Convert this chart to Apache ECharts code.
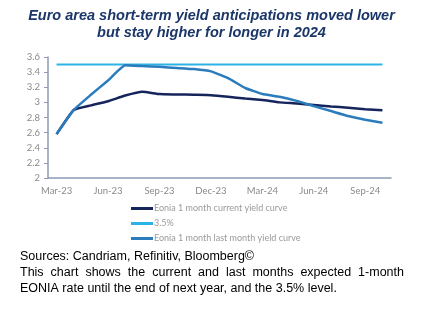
<!DOCTYPE html>
<html><head><meta charset="utf-8">
<script src="https://cdn.jsdelivr.net/npm/echarts@6/dist/echarts.min.js"></script>
<style>html,body{margin:0;padding:0;background:#fff}#c{width:423px;height:328px}</style>
</head><body><div id="c"></div>
<script>
const months = ["Mar-23","Apr-23","May-23","Jun-23","Jul-23","Aug-23","Sep-23","Oct-23","Nov-23","Dec-23","Jan-24","Feb-24","Mar-24","Apr-24","May-24","Jun-24","Jul-24","Aug-24","Sep-24","Oct-24"];
const currentCurve = [2.58,2.90,2.96,3.015,3.09,3.14,3.11,3.105,3.10,3.095,3.075,3.05,3.03,3.00,2.985,2.965,2.945,2.93,2.91,2.895];
const level35 = [3.5,3.5,3.5,3.5,3.5,3.5,3.5,3.5,3.5,3.5,3.5,3.5,3.5,3.5,3.5,3.5,3.5,3.5,3.5,3.5];
const lastMonthCurve = [2.58,2.90,3.10,3.29,3.49,3.48,3.47,3.455,3.44,3.41,3.32,3.19,3.11,3.075,3.02,2.95,2.885,2.82,2.77,2.73];
const seriesNames = ["Eonia 1 month current yield curve","3.5%","Eonia 1 month last month yield curve"];
const titleLines = ["Euro area short-term yield anticipations moved lower","but stay higher for longer in 2024"];
const sourceLine = "Sources: Candriam, Refinitiv, Bloomberg©";
const noteLine2 = ["This","chart","shows","the","current","and","last","months","expected","1-month"];
const noteLine3 = "EONIA rate until the end of next year, and the 3.5% level.";

const chart = echarts.init(document.getElementById('c'), null, {renderer:'canvas'});
const noteFont = '12.5px "Liberation Sans", Arial, sans-serif';
const cv = document.createElement('canvas').getContext('2d');
cv.font = noteFont;
const lineLeft = 20, lineRight = 404;
const widths = noteLine2.map(w => cv.measureText(w).width);
const total = widths.reduce((a,b)=>a+b,0);
const gap = (lineRight - lineLeft - total) / (noteLine2.length - 1);
const wordEls = [];
let xx = lineLeft;
noteLine2.forEach((w,i) => {
  wordEls.push({type:'text', left: Math.round(xx*10)/10, top: 266, style:{text:w, font:noteFont, fill:'#000'}});
  xx += widths[i] + gap;
});

const axisCol = '#8d9bb5';
const labelFont = {color:'#8a8a8a', fontSize:9.5, fontFamily:'Lato, "Open Sans", sans-serif'};
chart.setOption({
  animation:false,
  grid:{left:48, right:32, top:57, bottom:150},
  title:{text: titleLines.join('\n'), left:'center', top:2,
    textStyle:{color:'#1b3668', fontSize:14.5, fontWeight:'bold', fontStyle:'italic', fontFamily:'"Liberation Sans", Arial, sans-serif', lineHeight:17}},
  legend:{orient:'vertical', left:126, top:199, itemWidth:22, itemHeight:3, itemGap:6, icon:'rect',
    textStyle:{color:'#9a9a9a', fontSize:9, fontFamily:'Lato, "Open Sans", sans-serif', padding:[0,0,0,-4]},
    data: seriesNames},
  xAxis:{type:'category', data:months, boundaryGap:true,
    axisLine:{lineStyle:{color:axisCol, width:1.5}},
    axisTick:{interval:2, length:4, lineStyle:{color:axisCol}},
    axisLabel:{interval:2, margin:8, ...labelFont},
    splitLine:{show:false}},
  yAxis:{type:'value', min:2, max:3.6, interval:0.2,
    axisLine:{show:true, lineStyle:{color:axisCol, width:1.5}},
    axisTick:{show:true, length:4, lineStyle:{color:axisCol}},
    axisLabel:{margin:8, ...labelFont},
    splitLine:{show:false}},
  series:[
    {name:seriesNames[0], type:'line', data:currentCurve, symbol:'none', smooth:0.12, lineStyle:{color:'#15255c', width:2.5}, itemStyle:{color:'#15255c'}, z:3},
    {name:seriesNames[1], type:'line', data:level35, symbol:'none', lineStyle:{color:'#2bb3e6', width:2}, itemStyle:{color:'#2bb3e6'}, z:2},
    {name:seriesNames[2], type:'line', data:lastMonthCurve, symbol:'none', smooth:0.12, lineStyle:{color:'#2a7cbc', width:2.5}, itemStyle:{color:'#2a7cbc'}, z:4}
  ],
  graphic:[
    {type:'text', left:20, top:250, style:{text:sourceLine, font:noteFont, fill:'#000'}},
    ...wordEls,
    {type:'text', left:20, top:282, style:{text:noteLine3, font:noteFont, fill:'#000'}}
  ]
});
</script></body></html>
